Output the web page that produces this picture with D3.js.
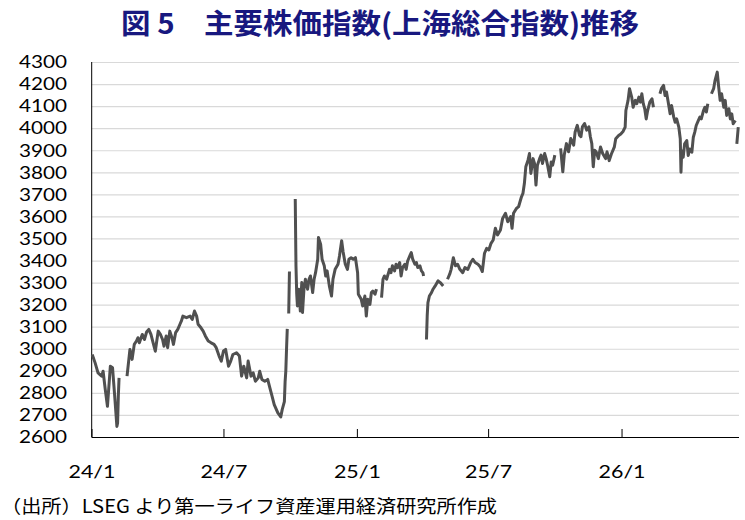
<!DOCTYPE html>
<html>
<head>
<meta charset="utf-8">
<script src="https://cdn.jsdelivr.net/npm/d3@7"></script>
<style>
  body { margin: 0; background: #fff; }
  svg { display: block; }
</style>
</head>
<body>
<div id="chart"></div>
<script>
// Shanghai Composite, values (null = break in the line)
const dates = [
  "2024-01-02","2024-01-06","2024-01-10","2024-01-15","2024-01-17","2024-01-20","2024-01-23","2024-01-25","2024-01-27","2024-01-30",
  "2024-02-02","2024-02-05","2024-02-06","2024-02-07","2024-02-08","2024-02-12","2024-02-19","2024-02-22","2024-02-23","2024-02-26","2024-02-29",
  "2024-03-03","2024-03-05","2024-03-07","2024-03-11","2024-03-14","2024-03-17","2024-03-20","2024-03-23","2024-03-26","2024-03-29","2024-03-31",
  "2024-04-02","2024-04-05","2024-04-08","2024-04-10","2024-04-13","2024-04-15","2024-04-18","2024-04-21","2024-04-23","2024-04-26","2024-04-29",
  "2024-05-02","2024-05-04","2024-05-06","2024-05-11","2024-05-16","2024-05-19","2024-05-22","2024-05-25","2024-05-27","2024-05-31",
  "2024-06-03","2024-06-06","2024-06-10","2024-06-14","2024-06-18","2024-06-21","2024-06-25","2024-06-28",
  "2024-07-01","2024-07-04","2024-07-08","2024-07-11","2024-07-14","2024-07-19","2024-07-23","2024-07-26","2024-07-29",
  "2024-08-02","2024-08-04","2024-08-08","2024-08-11","2024-08-14","2024-08-18","2024-08-20","2024-08-23","2024-08-27","2024-08-31",
  "2024-09-03","2024-09-06","2024-09-09","2024-09-14","2024-09-18","2024-09-20","2024-09-23","2024-09-24","2024-09-25","2024-09-26","2024-09-27","2024-09-28","2024-09-29","2024-09-30",
  "2024-10-01","2024-10-08","2024-10-09","2024-10-10","2024-10-11","2024-10-13","2024-10-15","2024-10-17","2024-10-18","2024-10-20","2024-10-22","2024-10-25","2024-10-27","2024-10-29",
  "2024-11-01","2024-11-03","2024-11-05","2024-11-08","2024-11-09","2024-11-12","2024-11-14","2024-11-17","2024-11-19","2024-11-21","2024-11-24","2024-11-27","2024-11-29",
  "2024-12-02","2024-12-06","2024-12-08","2024-12-11","2024-12-13","2024-12-16","2024-12-19","2024-12-21","2024-12-24","2024-12-27","2024-12-30",
  "2025-01-02","2025-01-03","2025-01-07","2025-01-09","2025-01-12","2025-01-14","2025-01-16","2025-01-19","2025-01-21","2025-01-23","2025-01-26","2025-01-28","2025-01-30",
  "2025-02-04","2025-02-06","2025-02-08","2025-02-11","2025-02-15","2025-02-17","2025-02-19","2025-02-22","2025-02-24","2025-02-26",
  "2025-03-01","2025-03-03","2025-03-05","2025-03-08","2025-03-10","2025-03-12","2025-03-15","2025-03-17","2025-03-19","2025-03-22","2025-03-24","2025-03-26","2025-03-29","2025-03-31",
  "2025-04-02","2025-04-03","2025-04-05","2025-04-07","2025-04-08","2025-04-09","2025-04-11","2025-04-14","2025-04-16","2025-04-19","2025-04-23","2025-04-26","2025-04-30",
  "2025-05-02","2025-05-06","2025-05-09","2025-05-11","2025-05-14","2025-05-17","2025-05-20","2025-05-23","2025-05-27","2025-05-30",
  "2025-06-03","2025-06-07","2025-06-10","2025-06-13","2025-06-17","2025-06-20","2025-06-23","2025-06-26","2025-06-29",
  "2025-07-02","2025-07-05","2025-07-08","2025-07-11","2025-07-14","2025-07-18","2025-07-21","2025-07-25","2025-07-28",
  "2025-08-01","2025-08-03","2025-08-05","2025-08-09","2025-08-12","2025-08-16","2025-08-18","2025-08-20","2025-08-22","2025-08-25","2025-08-27","2025-08-29",
  "2025-09-01","2025-09-03","2025-09-05","2025-09-07","2025-09-10","2025-09-12","2025-09-14","2025-09-17","2025-09-19","2025-09-21","2025-09-24","2025-09-26","2025-09-28","2025-09-30",
  "2025-10-01","2025-10-04","2025-10-09","2025-10-12","2025-10-14","2025-10-17","2025-10-20","2025-10-23","2025-10-27","2025-10-29",
  "2025-11-01","2025-11-04","2025-11-06","2025-11-08","2025-11-11","2025-11-14","2025-11-17","2025-11-19","2025-11-21","2025-11-23","2025-11-25","2025-11-27","2025-11-30",
  "2025-12-03","2025-12-06","2025-12-10","2025-12-12","2025-12-15","2025-12-18","2025-12-22","2025-12-24","2025-12-28","2025-12-31",
  "2026-01-03","2026-01-06","2026-01-07","2026-01-10","2026-01-12","2026-01-15","2026-01-17","2026-01-20","2026-01-22","2026-01-25","2026-01-27","2026-01-29","2026-01-31",
  "2026-02-02","2026-02-04","2026-02-06","2026-02-09","2026-02-12","2026-02-14","2026-02-16","2026-02-23","2026-02-25","2026-02-28",
  "2026-03-02","2026-03-04","2026-03-06","2026-03-09","2026-03-11","2026-03-14","2026-03-16","2026-03-18","2026-03-21","2026-03-23","2026-03-24","2026-03-25","2026-03-27","2026-03-29",
  "2026-04-01","2026-04-03","2026-04-05","2026-04-08","2026-04-10","2026-04-12","2026-04-14","2026-04-17","2026-04-19","2026-04-21","2026-04-24","2026-04-26","2026-04-28","2026-04-30",
  "2026-05-02","2026-05-05","2026-05-08","2026-05-10","2026-05-13","2026-05-15","2026-05-17","2026-05-19","2026-05-22","2026-05-24","2026-05-26","2026-05-29","2026-05-31",
  "2026-06-02","2026-06-04","2026-06-07","2026-06-08","2026-06-09","2026-06-11"
];
const closes = [
  2974,2936,2891,2876,2898,2815,2739,2830,2921,2914,
  2785,2648,2664,2785,2868,null,2876,2967,2997,2952,3020,
  3035,3050,3027,3065,3042,3076,3088,3065,3027,2989,3035,
  3080,3065,3042,3012,3058,3005,3080,3050,3020,3073,3088,
  3111,3126,3148,3141,3148,3133,3171,3148,3111,3095,
  3080,3058,3035,3027,3020,3005,2967,2944,
  2990,2997,2921,2944,2974,2982,2967,2876,2921,
  2868,2944,2876,2891,2853,2868,2898,2861,2853,2861,
  2823,2785,2747,2709,2691,2724,2760,2850,2900,3000,3090,null,3160,3350,
  null,3679,3376,3250,3194,3270,3171,3300,3164,3270,3315,3270,3315,3330,
  3255,3315,3345,3406,3504,3474,3406,3376,3330,3353,3285,3239,3315,
  3360,3383,3421,3490,3440,3383,3360,3406,3413,3406,3413,
  3345,3247,3224,3194,3239,3148,3224,3201,3255,3262,3247,3270,null,
  3232,3315,3330,3315,3360,3345,3376,3353,3383,3368,
  3391,3330,3368,3383,3360,3398,3421,3436,3406,3383,3391,3368,3376,3353,
  3345,3330,null,3042,3150,3209,3239,3255,3270,3285,3308,3300,3285,
  null,3315,3338,3360,3413,3376,3383,3360,3345,3368,
  3360,3391,3406,3391,3383,3372,3350,3433,3455,
  3448,3478,3493,3546,3516,3538,3591,3614,3576,
  3599,3546,3614,3636,3644,3689,3704,3749,3825,3855,3885,3795,
  3862,3840,3742,3832,3862,3878,3840,3885,3862,3832,3780,3847,3832,3862,
  3878,null,3908,3802,3878,3930,3893,3953,3923,3983,
  4013,3968,3961,4006,4021,3991,4006,3961,3930,3825,3900,3893,3862,
  3915,3885,3862,3893,3853,3883,3914,3952,3967,3974,
  3985,4005,4080,4126,4179,4141,4095,4126,4111,4141,4118,4156,4111,
  4088,4042,4080,4118,4133,4095,null,4156,4179,4194,
  4148,4164,4126,4065,4103,4050,4027,4042,4005,3952,3800,3898,3868,3929,
  3944,3876,3906,3891,3959,3982,4012,4035,4050,4042,4080,4095,4073,4111,
  null,4156,4179,4217,4254,4186,4126,4156,4095,4126,4058,4088,4042,
  4065,4020,4035,null,3929,4005
];
const yTicks = [2600, 2700, 2800, 2900, 3000, 3100, 3200, 3300, 3400, 3500,
                3600, 3700, 3800, 3900, 4000, 4100, 4200, 4300];
const xTickDates = ["2024-01-01", "2024-07-01", "2025-01-01", "2025-07-01", "2026-01-01"];
const xTickLabels = ["24/1", "24/7", "25/1", "25/7", "26/1"];
const xDomain = ["2024-01-01", "2026-06-12"];

const titleText = "図 5　主要株価指数(上海総合指数)推移";
const sourceText = "（出所）LSEG より第一ライフ資産運用経済研究所作成";

if (dates.length !== closes.length) console.error("length mismatch", dates.length, closes.length);

const parse = d3.utcParse("%Y-%m-%d");
const data = dates.map((d, i) => ({ date: parse(d), value: closes[i] }));

const W = 745, H = 520;
const margin = { top: 62, right: 6, bottom: 83, left: 91.5 };
const width = W - margin.left - margin.right;
const height = H - margin.top - margin.bottom;

const svg = d3.select("#chart").append("svg")
  .attr("width", W)
  .attr("height", H);

// title
svg.append("text")
  .attr("x", 380)
  .attr("y", 34)
  .attr("text-anchor", "middle")
  .attr("textLength", 518)
  .attr("lengthAdjust", "spacingAndGlyphs")
  .style("font-family", "'Noto Sans CJK JP', sans-serif")
  .style("font-weight", "bold")
  .style("font-size", "28px")
  .style("fill", "#18187f")
  .text(titleText);

const chart = svg.append("g")
  .attr("transform", `translate(${margin.left}, ${margin.top})`);

const x = d3.scaleUtc()
  .domain(xDomain.map(parse))
  .range([0, width]);

const y = d3.scaleLinear()
  .domain([2600, 4300])
  .range([height, 0]);

// gridlines
chart.append("g")
  .attr("class", "grid")
  .call(d3.axisLeft(y).tickValues(yTicks.slice(1)).tickSize(-width).tickFormat(""))
  .call(g => g.select(".domain").remove())
  .call(g => g.selectAll("line").attr("stroke", "#d9d9d9").attr("stroke-width", 1.2));

// y axis labels
chart.append("g")
  .attr("class", "axis y-axis")
  .call(d3.axisLeft(y).tickValues(yTicks).tickSize(0).tickPadding(24.5).tickFormat(d3.format("d")))
  .call(g => g.select(".domain").remove())
  .call(g => g.selectAll("text")
    .attr("textLength", 48)
    .attr("lengthAdjust", "spacingAndGlyphs")
    .style("font-family", "Lato, sans-serif")
    .style("font-size", "18px")
    .style("fill", "#000"));

// x axis
const xAxis = chart.append("g")
  .attr("class", "axis x-axis")
  .attr("transform", `translate(0, ${height})`)
  .call(d3.axisBottom(x)
    .tickValues(xTickDates.map(parse))
    .tickSize(-8)
    .tickFormat((d, i) => xTickLabels[i]));

xAxis.select(".domain")
  .attr("stroke", "#000")
  .attr("d", `M0,0.5H${width}`);
xAxis.selectAll(".tick line").attr("stroke", "#000");
xAxis.selectAll("text")
  .attr("y", 40.7)
  .attr("dy", 0)
  .attr("textLength", 47)
  .attr("lengthAdjust", "spacingAndGlyphs")
  .style("font-family", "Lato, sans-serif")
  .style("font-size", "18px")
  .style("fill", "#000");

// left axis line
chart.append("line")
  .attr("x1", 0.2).attr("x2", 0.2)
  .attr("y1", 0).attr("y2", height)
  .attr("stroke", "#000")
  .attr("stroke-width", 1);

// index line
const line = d3.line()
  .defined(d => d.value !== null)
  .x(d => x(d.date))
  .y(d => y(d.value));

chart.append("path")
  .datum(data)
  .attr("fill", "none")
  .attr("stroke", "#505050")
  .attr("stroke-width", 3)
  .attr("stroke-linejoin", "round")
  .attr("d", line);

// source note
svg.append("text")
  .attr("x", 1)
  .attr("y", 513)
  .attr("textLength", 496)
  .attr("lengthAdjust", "spacingAndGlyphs")
  .style("font-family", "'Noto Sans CJK JP', sans-serif")
  .style("font-size", "18px")
  .style("fill", "#000")
  .text(sourceText);
</script>
</body>
</html>
